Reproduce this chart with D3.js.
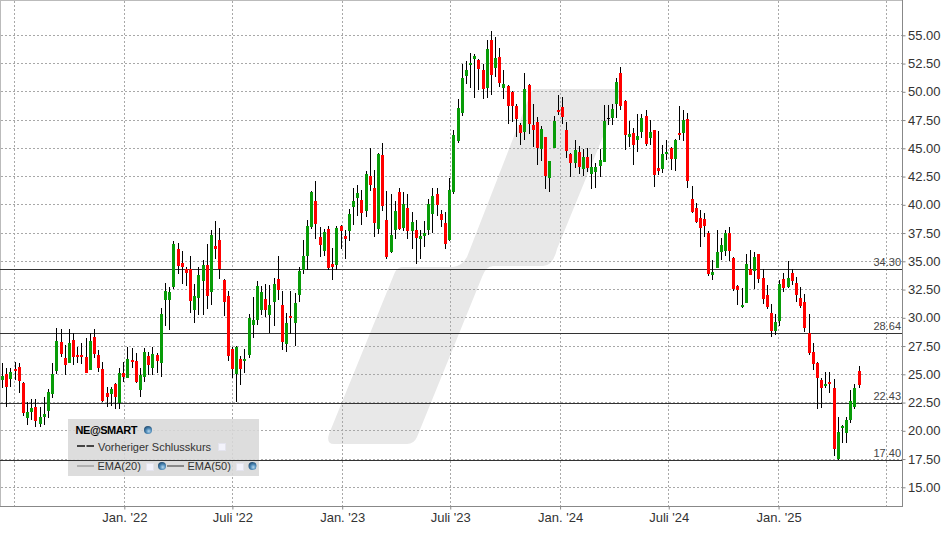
<!DOCTYPE html>
<html>
<head>
<meta charset="utf-8">
<title>NE@SMART</title>
<script src="https://d3js.org/d3.v7.min.js"></script>
<style>
    html, body { margin: 0; padding: 0; background: #fff; }
    svg { display: block; font-family: "Liberation Sans", Arial, sans-serif; }
    .axis text { font-size: 13px; fill: #333; }
    .axis line { stroke: #888; }
    .grid line { stroke: #a8a8a8; stroke-dasharray: 2,2; shape-rendering: crispEdges; }
    .level { stroke: #333; shape-rendering: crispEdges; }
    .level-label { font-size: 11px; fill: #444; text-anchor: end; }
    .legend text { font-size: 11px; fill: #333; }
</style>
</head>
<body>
<svg id="chart" width="948" height="534"></svg>
<script>
// weekly candles
const firstWeek = new Date(2021, 5, 11);

const opens = [
    24.49,25.03,24.61,25.47,25.65,24.20,21.16,21.66,22.11,20.63,
    21.25,21.78,23.29,25.29,27.86,26.44,26.03,28.04,26.71,26.71,
    26.53,25.41,28.30,26.71,25.47,23.34,23.26,24.14,22.43,25.11,
    24.70,26.27,26.18,23.61,24.76,26.62,25.56,26.71,26.00,31.57,
    31.57,32.75,36.09,34.85,34.32,34.29,30.69,31.78,33.26,34.67,
    32.31,36.35,36.88,33.35,31.93,27.24,25.03,26.35,26.18,26.71,
    29.36,29.81,30.69,31.66,30.25,31.40,33.43,31.13,27.68,30.16,
    29.54,32.02,34.23,35.46,38.03,40.33,37.15,35.91,37.85,34.76,
    34.67,38.12,37.23,37.68,39.80,40.60,40.42,39.45,42.54,41.48,
    37.85,44.40,38.65,35.82,37.77,41.13,37.94,39.71,37.68,37.77,
    36.97,37.23,37.77,39.18,40.95,39.18,38.38,36.88,41.13,45.64,
    48.12,51.39,52.37,52.90,52.81,51.93,50.33,54.58,52.10,53.08,
    50.33,50.51,49.98,48.74,47.06,46.44,50.60,47.06,47.32,44.93,
    46.00,42.37,45.02,48.38,48.65,46.62,44.49,43.69,44.67,43.16,
    44.23,42.72,42.90,43.43,43.78,47.65,47.68,48.92,51.66,49.18,
    45.99,46.35,45.73,46.44,47.85,45.91,46.61,43.25,43.16,44.49,
    45.02,44.05,46.35,46.35,47.59,40.51,39.71,38.83,38.74,37.50,
    33.78,34.40,35.82,35.91,37.50,35.29,32.81,30.96,31.31,34.32,
    34.14,35.65,33.52,32.02,30.42,28.83,29.72,33.43,32.73,33.96,
    33.08,31.75,31.40,28.65,26.97,26.00,24.50,23.96,24.32,23.79,
    17.50,20.25,19.80,20.95,22.11,25.29
];
const highs = [
    26.03,25.53,25.53,26.12,25.97,24.35,22.58,22.78,22.78,22.08,
    23.02,23.67,25.97,29.07,29.01,27.59,29.01,28.63,27.45,27.74,
    28.18,28.63,29.01,27.15,26.12,23.85,23.90,24.20,25.53,26.09,
    27.39,27.33,26.85,25.53,27.30,27.00,27.45,26.85,30.84,33.05,
    32.76,36.80,36.59,35.91,34.50,35.47,32.99,34.50,35.12,36.53,
    37.77,38.57,37.95,33.43,32.40,27.39,27.50,26.62,27.24,30.34,
    31.87,33.26,32.81,32.99,32.90,33.50,35.47,32.37,30.40,32.37,
    32.16,34.50,36.88,38.65,41.22,42.10,38.03,37.85,38.12,36.18,
    38.12,38.21,37.77,39.62,41.48,41.75,41.31,42.99,45.02,43.07,
    44.58,45.46,41.22,40.95,40.33,41.48,41.13,40.95,39.36,38.65,
    37.77,38.56,40.51,41.48,41.48,39.53,39.36,42.37,46.62,49.36,
    52.46,52.72,53.43,53.34,52.90,52.46,54.58,55.38,54.85,53.87,
    51.93,50.60,50.07,48.92,47.23,51.66,50.69,48.92,47.77,46.97,
    46.00,43.87,47.85,49.71,49.54,47.32,44.58,45.73,45.20,44.93,
    45.02,44.49,43.69,44.93,48.83,48.83,48.92,51.22,52.19,49.27,
    47.41,46.79,48.03,48.03,48.39,47.50,46.61,46.53,45.29,45.73,
    45.11,45.82,48.74,48.39,48.12,41.66,40.15,39.53,39.27,37.68,
    35.11,37.76,37.06,37.76,38.03,35.38,32.90,32.64,35.65,36.00,
    35.82,35.65,34.32,32.90,31.22,30.34,33.35,33.96,35.03,34.32,
    33.61,32.73,32.10,30.34,27.77,26.09,24.67,25.20,25.20,24.58,
    21.22,20.51,21.22,23.61,24.14,25.73
];
const lows = [
    23.76,22.08,23.90,24.50,23.37,21.34,20.48,20.96,20.31,20.37,
    20.51,21.16,22.87,25.03,26.56,24.94,25.97,25.82,25.97,25.91,
    25.08,25.38,26.41,25.23,22.52,22.14,22.19,21.96,21.96,24.35,
    24.64,25.53,24.20,23.00,24.35,24.94,24.94,25.08,24.79,29.27,
    28.92,32.52,33.88,32.99,32.81,30.45,29.51,30.25,30.25,30.75,
    31.13,35.20,33.43,30.19,26.21,24.64,22.52,24.05,25.08,26.47,
    28.18,29.36,30.25,30.10,28.68,29.27,31.58,27.15,27.00,28.57,
    27.50,31.42,33.88,34.23,37.90,36.97,35.38,35.46,34.23,33.35,
    34.23,36.08,35.20,36.79,38.21,39.00,38.21,38.92,41.22,37.15,
    37.41,39.45,35.20,35.70,36.97,37.77,37.68,36.97,36.08,34.76,
    35.20,36.26,37.32,37.50,39.00,38.06,36.08,36.79,40.95,45.46,
    47.85,50.69,50.33,49.45,50.15,49.36,49.45,49.71,51.31,50.42,
    49.36,47.15,47.32,46.00,45.29,45.73,46.26,45.11,43.52,43.87,
    41.39,41.13,45.02,47.94,47.15,44.14,42.46,43.25,42.72,42.54,
    42.90,41.39,41.48,42.46,43.78,47.06,47.06,47.68,48.39,44.84,
    45.11,43.52,44.67,45.91,45.20,45.29,41.57,42.63,42.81,43.96,
    43.08,42.99,45.73,45.64,41.48,39.27,38.38,36.26,37.15,33.69,
    33.34,34.40,35.11,35.46,35.02,32.37,31.13,30.87,31.31,33.79,
    32.55,33.08,31.22,30.78,28.30,28.48,29.27,32.28,32.64,32.90,
    31.40,30.87,28.74,26.71,25.38,21.93,22.02,23.79,23.34,17.77,
    17.41,18.92,18.92,20.69,21.93,23.79
];
const closes = [
    24.85,23.90,25.20,25.29,24.44,21.55,21.63,22.02,20.90,21.22,
    21.49,23.43,25.03,27.95,26.83,25.82,27.77,26.53,26.53,26.53,
    25.11,27.95,26.80,25.56,22.61,22.99,23.70,22.99,25.11,24.76,
    26.35,26.09,24.32,24.94,26.97,25.82,26.80,26.15,30.34,32.34,
    32.28,36.53,34.58,34.50,33.96,31.49,31.93,33.79,34.67,31.93,
    37.33,36.09,34.29,31.37,26.62,25.47,27.45,25.47,26.35,29.98,
    29.81,32.81,32.28,30.69,31.13,32.99,32.46,27.86,29.54,29.98,
    31.31,34.14,35.46,38.12,41.13,38.30,36.44,37.59,34.38,34.50,
    37.94,37.68,36.97,39.18,40.33,41.04,39.27,42.72,41.75,38.38,
    44.49,39.89,35.38,37.32,39.45,37.85,40.07,37.68,38.47,37.06,
    37.23,37.50,40.07,40.77,39.98,38.65,36.53,41.31,46.17,48.56,
    51.22,51.93,52.54,53.16,52.01,50.24,53.78,51.48,52.99,50.77,
    50.69,48.74,48.74,47.59,46.35,50.24,47.15,46.62,45.02,46.70,
    42.54,43.87,47.41,48.21,47.77,44.76,43.69,44.85,43.34,44.23,
    43.25,43.34,43.34,43.96,47.41,47.65,48.47,50.86,48.74,46.17,
    46.26,45.29,46.08,47.68,45.38,46.44,42.63,42.99,44.49,44.67,
    44.05,45.73,46.17,47.50,42.10,39.36,38.47,37.94,38.12,33.87,
    34.05,35.82,36.44,37.50,35.91,32.55,32.46,31.13,34.76,33.79,
    35.38,33.43,31.66,30.96,28.83,29.63,32.99,32.64,33.52,33.26,
    32.02,31.04,29.10,26.88,25.91,24.67,23.79,24.14,24.14,18.39,
    19.89,20.42,20.95,22.64,23.79,24.05
];

const weeks = opens.map((d, i) => d3.timeDay.offset(firstWeek, 7 * i));

// horizontal support / resistance levels
const levels = [34.30, 28.64, 22.43, 17.40];

const yTicks = [15, 17.5, 20, 22.5, 25, 27.5, 30, 32.5, 35, 37.5, 40, 42.5, 45, 47.5, 50, 52.5, 55];

// half year marks, the first and last have a grid line but no label
const gridDates = [
    new Date(2021, 6, 1), new Date(2022, 0, 1), new Date(2022, 6, 1), new Date(2023, 0, 1), new Date(2023, 6, 1),
    new Date(2024, 0, 1), new Date(2024, 6, 1), new Date(2025, 0, 1), new Date(2025, 6, 1)
];
const labelDates = gridDates.slice(1, -1);
const labelNames = ["Jan. '22", "Juli '22", "Jan. '23", "Juli '23", "Jan. '24", "Juli '24", "Jan. '25"];

const chartRight = 902;
const chartBottom = 506;

const svg = d3.select('#chart');

const xScale = d3.scaleTime()
    .domain([gridDates[0], gridDates[gridDates.length - 1]])
    .range([14.5, 886.6]);

const yScale = d3.scaleLinear()
    .domain([15, 55])
    .range([487.3, 35.3]);

const px = v => Math.floor(v) + 0.5;

const defs = svg.append('defs');
const globe = defs.append('radialGradient').attr('id', 'globe')
    .attr('cx', 0.6).attr('cy', 0.65).attr('r', 0.65);
globe.append('stop').attr('offset', 0).attr('stop-color', '#b4d8f0');
globe.append('stop').attr('offset', 0.55).attr('stop-color', '#4a86b4');
globe.append('stop').attr('offset', 1).attr('stop-color', '#244f74');

// logo in the background
svg.append('path')
    .attr('fill', '#e8e8e8')
    .attr('d', 'M535,89 L616,89 Q622,89 620,95 L557,249 Q553,266 543,266 L493,266 Q486,266 482,277 '
        + 'L417,437 Q414,444 407,444 L334,444 Q326,444 329,434 L395,272 Q398,267 403,267 L453,267 Q462,266 467,257 L530,95 Q532,89 535,89 Z');

// frame
svg.append('rect').attr('x', 0).attr('y', 0).attr('width', chartRight).attr('height', 1).attr('fill', '#bbb');
svg.append('rect').attr('x', 0).attr('y', 0).attr('width', 1).attr('height', chartBottom).attr('fill', '#bbb');

// grid
const grid = svg.append('g').attr('class', 'grid');
grid.selectAll('line.v').data(gridDates).enter().append('line')
    .attr('class', 'v')
    .attr('x1', d => px(xScale(d))).attr('x2', d => px(xScale(d)))
    .attr('y1', 1).attr('y2', chartBottom);
grid.selectAll('line.h').data(yTicks).enter().append('line')
    .attr('class', 'h')
    .attr('x1', 1).attr('x2', chartRight)
    .attr('y1', d => px(yScale(d))).attr('y2', d => px(yScale(d)));

// legend box sits over the grid but under the level lines
const legend = svg.append('g').attr('class', 'legend');
legend.append('rect')
    .attr('x', 68).attr('y', 419).attr('width', 191).attr('height', 57)
    .attr('fill', '#d8d8d8').attr('fill-opacity', 0.87);

// levels
svg.selectAll('line.level').data(levels).enter().append('line')
    .attr('class', 'level')
    .attr('x1', 0).attr('x2', chartRight)
    .attr('y1', d => px(yScale(d))).attr('y2', d => px(yScale(d)));
svg.selectAll('text.level-label').data(levels).enter().append('text')
    .attr('class', 'level-label')
    .attr('x', chartRight - 1)
    .attr('y', d => px(yScale(d)) - 3.5)
    .text(d => d.toFixed(2));

// candles
const candles = svg.append('g').attr('class', 'candles');
candles.selectAll('rect.wick').data(weeks).enter().append('rect')
    .attr('class', 'wick')
    .attr('x', d => Math.floor(xScale(d)))
    .attr('width', 1)
    .attr('y', (d, i) => Math.round(yScale(highs[i])))
    .attr('height', (d, i) => Math.round(yScale(lows[i])) - Math.round(yScale(highs[i])))
    .attr('fill', '#000')
    .attr('shape-rendering', 'crispEdges');
candles.selectAll('rect.body').data(weeks).enter().append('rect')
    .attr('class', 'body')
    .attr('x', d => Math.floor(xScale(d)) - 1)
    .attr('width', 3)
    .attr('y', (d, i) => Math.round(yScale(Math.max(opens[i], closes[i]))))
    .attr('height', (d, i) => {
        const h = Math.round(yScale(Math.min(opens[i], closes[i]))) - Math.round(yScale(Math.max(opens[i], closes[i])));
        return opens[i] === closes[i] ? 1 : Math.max(h, 2);
    })
    .attr('fill', (d, i) => closes[i] > opens[i] ? '#089c08' : closes[i] < opens[i] ? '#ff0000' : '#000')
    .attr('shape-rendering', 'crispEdges');

// axes
const xAxis = d3.axisBottom(xScale)
    .tickValues(labelDates)
    .tickFormat((d, i) => labelNames[i])
    .tickSizeInner(3)
    .tickSizeOuter(0)
    .tickPadding(3.6);
const xAxisG = svg.append('g').attr('class', 'axis x-axis')
    .attr('transform', `translate(0,${chartBottom + 0.5})`)
    .call(xAxis);
xAxisG.select('.domain').remove();

const yAxis = d3.axisRight(yScale)
    .tickValues(yTicks)
    .tickFormat(d => d.toFixed(2))
    .tickSizeInner(3)
    .tickSizeOuter(0)
    .tickPadding(2.5);
const yAxisG = svg.append('g').attr('class', 'axis y-axis')
    .attr('transform', `translate(${chartRight + 0.5},0)`)
    .call(yAxis);
yAxisG.select('.domain').remove();

svg.append('line').attr('x1', 0).attr('x2', chartRight + 1).attr('y1', chartBottom + 0.5).attr('y2', chartBottom + 0.5)
    .attr('stroke', '#888').attr('shape-rendering', 'crispEdges');
svg.append('line').attr('x1', chartRight + 0.5).attr('x2', chartRight + 0.5).attr('y1', 0).attr('y2', chartBottom)
    .attr('stroke', '#888').attr('shape-rendering', 'crispEdges');

// legend content
const addGlobe = (x, y) => legend.append('circle')
    .attr('cx', x).attr('cy', y).attr('r', 4).attr('fill', 'url(#globe)');
const addCheck = (x, y) => legend.append('rect')
    .attr('x', x).attr('y', y).attr('width', 7).attr('height', 7)
    .attr('fill', '#f3f3fb').attr('stroke', '#e4e4ee').attr('shape-rendering', 'crispEdges');
const addLine = (x1, x2, y, color, dash) => legend.append('line')
    .attr('x1', x1).attr('x2', x2).attr('y1', y).attr('y2', y)
    .attr('stroke', color).attr('stroke-width', 2).attr('stroke-dasharray', dash || null);

legend.append('text').attr('x', 75.5).attr('y', 434)
    .style('font-weight', 'bold').style('fill', '#000').attr('textLength', 62).text('NE@SMART');
addGlobe(148, 430);

addLine(77, 94, 446, '#444', '8,1.5');
legend.append('text').attr('x', 98).attr('y', 450.5).text('Vorheriger Schlusskurs');
addCheck(218.5, 443.5);

addLine(77, 94, 466, '#b0b0b0');
legend.append('text').attr('x', 97.5).attr('y', 470).text('EMA(20)');
addCheck(146, 463);
addGlobe(162, 466);

addLine(167, 184, 466, '#888');
legend.append('text').attr('x', 187.5).attr('y', 470).text('EMA(50)');
addCheck(236, 463);
addGlobe(252.5, 466);
</script>
</body>
</html>
